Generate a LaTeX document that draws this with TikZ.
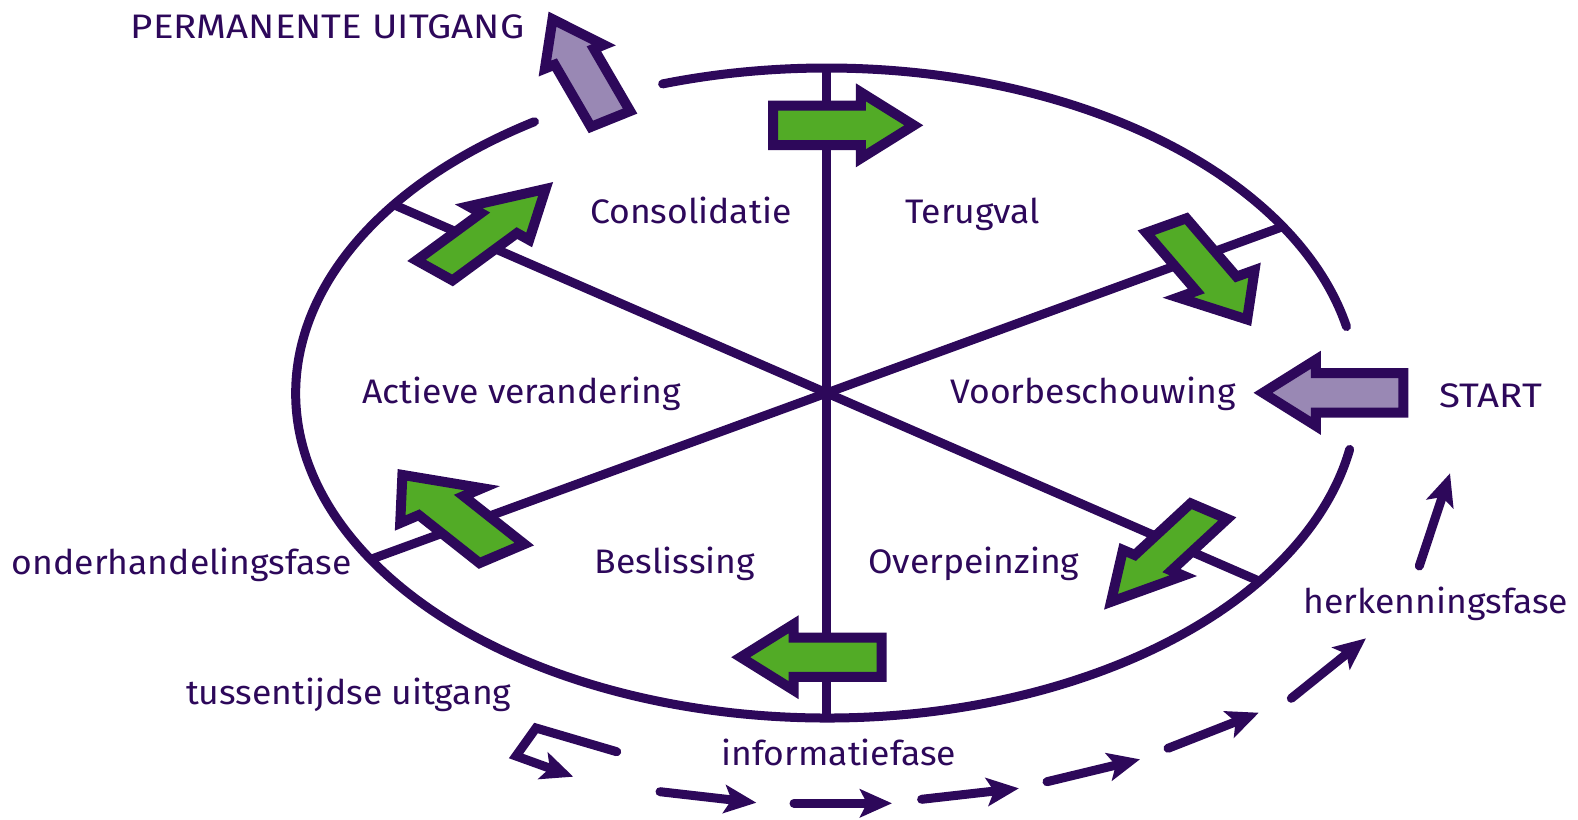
\documentclass[tikz,border=0pt]{standalone}
\usepackage{fontspec}
\setmainfont{Fira Sans}
\newfontfamily\lcfont[FakeStretch=1.045]{Fira Sans}
\newfontfamily\ucfont[FakeStretch=1.13]{Fira Sans}
\usetikzlibrary{arrows.meta}
\definecolor{ink}{RGB}{45,8,90}
\definecolor{leaf}{RGB}{82,171,38}
\definecolor{lilac}{RGB}{153,136,180}
\tikzset{
  ring/.style={draw=ink, line width=9pt, line cap=round},
  fatline/.style={draw=ink, line width=10pt, line join=miter, miter limit=20},
  trail/.style={draw=ink, line width=9pt, line cap=round, line join=miter,
     -{Stealth[length=32pt, width=28pt, inset=7pt]}},
  lbl/.style={font=\lcfont\fontsize{34}{40}\selectfont, text=ink, inner sep=0pt, anchor=base},
  ulbl/.style={lbl, font=\ucfont\fontsize{34}{40}\selectfont},
}
% tail x,y ; tip x,y ; half-width vector ; head ratio ; head fraction ; fill
\newcommand{\fatarrow}[9]{%
  \begin{scope}[shift={(#1,#2)}, x={({(#3-#1)*1pt},{(#2-#4)*1pt})}, y={({#5*1pt},{-1*#6*1pt})}]
    \draw[fatline, fill=#9] (0,1) -- ({1-#8},1) -- ({1-#8},#7) -- (1,0) -- ({1-#8},-#7) -- ({1-#8},-1) -- (0,-1) -- cycle;
  \end{scope}}
\begin{document}
\begin{tikzpicture}[x=1pt, y=-1pt]
\useasboundingbox (0,0) rectangle (1578,819);
\coordinate (O) at (826.7,393);
% ellipse arcs
\draw[ring] ([shift={(11.8:531pt and 325pt)}]O) arc[start angle=11.8, end angle=108, x radius=531pt, y radius=325pt];
\draw[ring] ([shift={(123.4:531pt and 325pt)}]O) arc[start angle=123.4, end angle=350, x radius=531pt, y radius=325pt];
% spokes
\path (O) ++(90:531pt and 325pt) coordinate (v1);
\path (O) ++(270:531pt and 325pt) coordinate (v2);
\path (O) ++(144.6:531pt and 325pt) coordinate (d1);
\path (O) ++(-35.4:531pt and 325pt) coordinate (d2);
\path (O) ++(30.8:531pt and 325pt) coordinate (e1);
\path (O) ++(210.8:531pt and 325pt) coordinate (e2);
\draw[ring, line cap=butt] (v1) -- (v2);
\draw[ring, line cap=butt] (d1) -- (d2);
\draw[ring, line cap=butt] (e1) -- (e2);
% fat arrows
\fatarrow{773}{125.3}{913.8}{125.3}{0}{19.7}{1.675}{0.376}{leaf}
\fatarrow{1166.3}{225.5}{1247.1}{319.5}{20.1}{-7.2}{1.9}{0.38}{leaf}
\fatarrow{1209}{511.1}{1111}{601.8}{18.3}{7.8}{1.65}{0.43}{leaf}
\fatarrow{881.7}{657.2}{740.7}{657.2}{0}{19.7}{1.675}{0.376}{leaf}
\fatarrow{501.9}{553.6}{402.4}{474.9}{22.4}{-9.5}{1.83}{0.39}{leaf}
\fatarrow{434.5}{270.4}{545.6}{188.9}{18}{10}{1.68}{0.42}{leaf}
\fatarrow{610.5}{119}{552.5}{19.2}{19.6}{-7.9}{1.5}{0.376}{lilac}
\fatarrow{1403.3}{392.8}{1263}{392.8}{0}{19.7}{1.675}{0.376}{lilac}
% small trail arrows
\coordinate (h0) at (616.7,751.7);
\coordinate (h1) at (536,728);
\coordinate (h2) at (516,756);
\coordinate (h3) at (573.3,776.7);
\draw[trail] (h0) -- (h1) -- (h2) -- (h3);
\coordinate (b0) at (660,791.7); \coordinate (b1) at (756.4,802.7);
\draw[trail] (b0) -- (b1);
\coordinate (c0) at (794,803.3); \coordinate (c1) at (892,803.3);
\draw[trail] (c0) -- (c1);
\coordinate (f0) at (921.6,799.3); \coordinate (f1) at (1018.9,788.3);
\draw[trail] (f0) -- (f1);
\coordinate (g0) at (1047,781.7); \coordinate (g1) at (1140,759.3);
\draw[trail] (g0) -- (g1);
\coordinate (k0) at (1168,748.3); \coordinate (k1) at (1258.8,712.7);
\draw[trail] (k0) -- (k1);
\coordinate (m0) at (1291.3,698.3); \coordinate (m1) at (1366,638.3);
\draw[trail] (m0) -- (m1);
\coordinate (n0) at (1419.3,566); \coordinate (n1) at (1450,473.3);
\draw[trail] (n0) -- (n1);
% labels
\node[ulbl] (tperm) at (327.6,38.3) {PERMANENTE UITGANG};
\node[lbl] (tcons) at (690.7,223.3) {Consolidatie};
\node[lbl] (tterug) at (972.7,223.3) {Terugval};
\node[lbl] (tact) at (521.8,403.5) {Actieve verandering};
\node[lbl] (tvoor) at (1093,403.5) {Voorbeschouwing};
\node[ulbl] (tstart) at (1490.8,407.3) {START};
\node[lbl] (tbes) at (675,573.3) {Beslissing};
\node[lbl] (tover) at (973.7,573.3) {Overpeinzing};
\node[lbl] (tonder) at (181.7,574.5) {onderhandelingsfase};
\node[lbl] (therk) at (1436,613.3) {herkenningsfase};
\node[lbl] (ttus) at (348.7,704) {tussentijdse uitgang};
\node[lbl] (tinfo) at (838.8,765) {informatiefase};
\end{tikzpicture}
\end{document}
